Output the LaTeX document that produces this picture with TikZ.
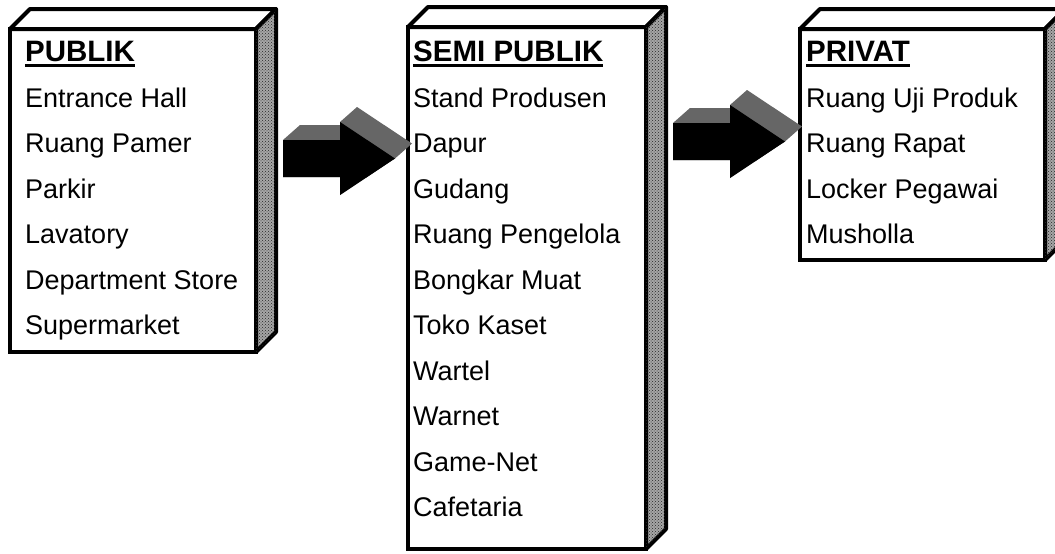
\documentclass[tikz,border=0pt]{standalone}
\usepackage{fontspec}
\setmainfont{Liberation Sans}
\usetikzlibrary{calc,patterns}

\tikzset{
	front/.style={draw=black, line width=4pt, fill=white, anchor=north west, inner sep=0pt, outer sep=0pt},
	face/.style={draw=black, line width=4pt, line join=round, fill=white},
	sideface/.style={face, fill=black!35, postaction={pattern=crosshatch dots, pattern color=black!85}},
	entry/.style={anchor=base west, inner sep=0pt, font=\fontsize{27}{32}\selectfont},
	fatarrow/.pic={
		% bevel of the arrow
		\fill[black!60] (0,18.5) -- (0,-18.5) -- (17,-33.5) -- (57,-33.5) -- (57,-36.5) -- (74,-51.5) -- (129,-15) -- (112,0) -- (57,36.5) -- (57,18.5) -- cycle;
		% face of the arrow
		\fill[black] (0,-18.5) -- (57,-18.5) -- (57,-36.5) -- (112,0) -- (57,36.5) -- (57,18.5) -- (0,18.5) -- cycle;
	}
}
\newcommand{\headline}[1]{\vtop{\hbox{\fontsize{29.5}{32}\selectfont\bfseries #1}\kern2pt\hrule height 3.5pt}}

\begin{document}
\begin{tikzpicture}[x=1pt, y=-1pt]
	\clip (0,0) rectangle (1055,554);
	\def\depth{20}

	% the three boxes
	\node[front, minimum width=246pt, minimum height=323pt] (publik) at (10,29) {};
	\node[front, minimum width=238pt, minimum height=522pt] (semi) at (408,27) {};
	\node[front, minimum width=245pt, minimum height=231pt] (privat) at (800,29) {};
	\foreach \b in {publik, semi, privat} {
		% top and side faces
		\draw[face] (\b.north west) -- ++(\depth,-\depth) -- ($(\b.north east)+(\depth,-\depth)$) -- (\b.north east) -- cycle;
		\draw[sideface] (\b.north east) -- ++(\depth,-\depth) -- ($(\b.south east)+(\depth,-\depth)$) -- (\b.south east) -- cycle;
	}

	% room lists
	\foreach \txt [count=\i from 0] in {\headline{PUBLIK}, Entrance Hall, Ruang Pamer, Parkir, Lavatory, Department Store, Supermarket}
		\node[entry] (pub\i) at (25, 61.5+45.5*\i) {\txt};
	\foreach \txt [count=\i from 0] in {\headline{SEMI PUBLIK}, Stand Produsen, Dapur, Gudang, Ruang Pengelola, Bongkar Muat, Toko Kaset, Wartel, Warnet, Game-Net, Cafetaria}
		\node[entry] (semi\i) at (413, 61.5+45.5*\i) {\txt};
	\foreach \txt [count=\i from 0] in {\headline{PRIVAT}, Ruang Uji Produk, Ruang Rapat, Locker Pegawai, Musholla}
		\node[entry] (priv\i) at (806, 61.5+45.5*\i) {\txt};

	% block arrows between the boxes
	\coordinate (y1) at (0,158.5);
	\coordinate (y2) at (0,141.5);
	\coordinate (arr1) at ($(publik.east |- y1)+(27,0)$);
	\coordinate (arr2) at ($(semi.east |- y2)+(27,0)$);
	\pic at (arr1) {fatarrow};
	\pic at (arr2) {fatarrow};
\end{tikzpicture}
\end{document}
